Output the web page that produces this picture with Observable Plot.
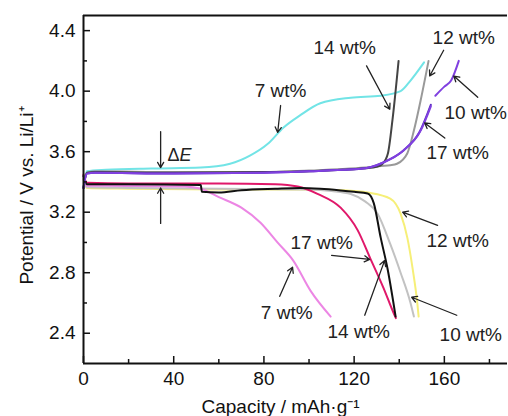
<!DOCTYPE html>
<html><head><meta charset="utf-8">
<script src="https://cdn.jsdelivr.net/npm/d3@7"></script>
<script src="https://cdn.jsdelivr.net/npm/@observablehq/plot@0.6"></script>
<style>body{margin:0;background:#fff}</style>
</head><body><div id="chart"></div>
<script>
// ---- tick values ----
const xMajor = [0, 40, 80, 120, 160];
const xMinor = [20, 60, 100, 140, 180];
const yMajor = [2.4, 2.8, 3.2, 3.6, 4.0, 4.4];
const yMinor = [2.6, 3.0, 3.4, 3.8, 4.2];

// ---- charge curves (capacity mAh/g, potential V) ----
const c7Cap  = [0, 1.5, 10, 30, 52, 65, 74, 81.6, 88.7, 96, 105, 118.5, 131.8, 140.6, 145, 151];
const c7V    = [3.36, 3.47, 3.48, 3.489, 3.495, 3.52, 3.575, 3.65, 3.76, 3.84, 3.92, 3.957, 3.97, 4.0, 4.07, 4.19];
const c17Cap = [0, 1.5, 5, 40, 80, 100, 115, 125, 130, 136, 142, 149, 154];
const c17V   = [3.36, 3.455, 3.46, 3.455, 3.46, 3.47, 3.48, 3.49, 3.51, 3.55, 3.61, 3.73, 3.91];
const c10Cap = [0, 1.5, 5, 40, 80, 100, 115, 125, 130, 136, 142, 149.5, 154, 155, 156, 160, 163, 166.4];
const c10V   = [3.36, 3.455, 3.46, 3.455, 3.46, 3.47, 3.48, 3.49, 3.51, 3.55, 3.61, 3.74, 3.9, NaN, 3.97, 4.03, 4.07, 4.2];
const c12Cap = [0, 1.5, 5, 40, 80, 100, 115, 125, 132, 136, 139, 143.6, 146.5, 149.5, 153];
const c12V   = [3.36, 3.46, 3.47, 3.465, 3.465, 3.475, 3.485, 3.495, 3.505, 3.51, 3.52, 3.59, 3.74, 3.94, 4.2];
const c14Cap = [0, 1.5, 5, 40, 80, 100, 115, 125, 130, 132.6, 135, 137, 139.7];
const c14V   = [3.36, 3.46, 3.465, 3.46, 3.465, 3.47, 3.48, 3.49, 3.5, 3.52, 3.59, 3.81, 4.2];

// ---- discharge curves ----
const d7Cap  = [0, 1.5, 10, 30, 45, 52, 60, 70, 78.5, 86, 93, 100.7, 109.6];
const d7V    = [3.44, 3.375, 3.375, 3.372, 3.37, 3.355, 3.30, 3.23, 3.13, 3.0, 2.88, 2.68, 2.51];
const d10Cap = [0, 1.5, 20, 60, 100, 110, 118.5, 125, 130.4, 136, 140.6, 145, 146.5];
const d10V   = [3.42, 3.365, 3.36, 3.355, 3.35, 3.34, 3.32, 3.27, 3.19, 2.99, 2.80, 2.60, 2.51];
const d12Cap = [0, 1.5, 20, 60, 100, 115, 126, 136, 140.6, 143.6, 146, 148, 148.6];
const d12V   = [3.42, 3.36, 3.355, 3.35, 3.35, 3.345, 3.33, 3.29, 3.19, 3.03, 2.82, 2.60, 2.51];
const d14Cap = [0, 1.5, 20, 52, 52.5, 60, 70, 85, 96, 105, 114, 120, 126, 128.7, 131.8, 134.9, 138.4];
const d14V   = [3.44, 3.385, 3.385, 3.38, 3.335, 3.33, 3.345, 3.355, 3.36, 3.355, 3.344, 3.335, 3.324, 3.26, 3.03, 2.82, 2.51];
const d17Cap = [0, 1.5, 20, 60, 85, 95, 104, 114, 121.6, 127, 133, 137.6, 138.5];
const d17V   = [3.45, 3.395, 3.39, 3.39, 3.385, 3.37, 3.32, 3.23, 3.08, 2.90, 2.70, 2.53, 2.50];

const series = [
  {cap: d12Cap, v: d12V, color: "#f6ef78"},
  {cap: d10Cap, v: d10V, color: "#c2c2c2"},
  {cap: d7Cap,  v: d7V,  color: "#ec86e4"},
  {cap: d17Cap, v: d17V, color: "#e0186a"},
  {cap: d14Cap, v: d14V, color: "#111111"},
  {cap: c7Cap,  v: c7V,  color: "#72e4e6"},
  {cap: c12Cap, v: c12V, color: "#999999"},
  {cap: c14Cap, v: c14V, color: "#444444"},
  {cap: c17Cap, v: c17V, color: "#5a2cc0"},
  {cap: c10Cap, v: c10V, color: "#8040e0"}
];

// ---- annotations ----
const labText = ["14 wt%", "12 wt%", "10 wt%", "17 wt%", "7 wt%", "12 wt%", "17 wt%", "7 wt%", "14 wt%", "10 wt%"];
const labX    = [115.8, 168.6, 173.9, 165.9, 87.4, 165.9, 105.6, 90.1, 122, 171.7];
const labY    = [4.288, 4.354, 3.859, 3.595, 4.004, 3.007, 2.994, 2.532, 2.407, 2.387];
const arX1 = [125.5, 159.7, 174.8, 160.2, 87.4, 157, 110, 87, 124.7, 165.5, 34.2, 34.2];
const arY1 = [4.167, 4.27, 3.96, 3.69, 3.905, 3.113, 2.915, 2.644, 2.519, 2.519, 3.733, 3.126];
const arX2 = [135.8, 153.5, 164.2, 151.3, 86.1, 141.5, 126.9, 92.7, 133.5, 145.5, 34.2, 34.2];
const arY2 = [3.88, 4.10, 4.10, 3.79, 3.727, 3.20, 2.888, 2.836, 2.88, 2.638, 3.495, 3.36];
const deltaX = 37.3, deltaY = 3.574;

const W = 508, H = 416, mL = 83, mR = 1, mT = 15, mB = 53;
const pw = W - mL - mR, ph = H - mT - mB;

const labels = labText.map((t, i) => ({t, x: labX[i], y: labY[i]}));
const arrows = arX1.map((x1, i) => ({x1, y1: arY1[i], x2: arX2[i], y2: arY2[i]}));

const marks = [];
for (const s of series) {
  const rows = s.cap.map((c, i) => ({c, v: s.v[i]}));
  marks.push(Plot.line(rows, {x: "c", y: "v", stroke: s.color, strokeWidth: 2, curve: "monotone-x"}));
}
marks.push(
  Plot.ruleX([0], {stroke: "#111", strokeWidth: 2}),
  Plot.ruleY([2.2], {stroke: "#111", strokeWidth: 2}),
  Plot.ruleY([4.5], {stroke: "#111", strokeWidth: 2}),
  Plot.tickX(xMajor, {x: d => d, stroke: "#111", strokeWidth: 1.5, insetTop: ph - 7}),
  Plot.tickX(xMinor, {x: d => d, stroke: "#111", strokeWidth: 1.5, insetTop: ph - 4}),
  Plot.tickY(yMajor, {y: d => d, stroke: "#111", strokeWidth: 1.5, insetRight: pw - 7}),
  Plot.tickY(yMinor, {y: d => d, stroke: "#111", strokeWidth: 1.5, insetRight: pw - 4}),
  Plot.axisX(xMajor, {tickSize: 0, tickPadding: 8, fontSize: 19, fill: "#111", label: null}),
  Plot.axisY(yMajor, {tickSize: 0, tickPadding: 8, fontSize: 19, fill: "#111", label: null, tickFormat: d3.format(".1f")}),
  Plot.arrow(arrows, {x1: "x1", y1: "y1", x2: "x2", y2: "y2", stroke: "#222", strokeWidth: 1.3, headLength: 7}),
  Plot.text(labels, {x: "x", y: "y", text: "t", fontSize: 19, fill: "#222", textAnchor: "middle", lineAnchor: "middle"}),
  Plot.text([0], {x: deltaX, y: deltaY, text: () => "Δ", fontSize: 18, fill: "#222", textAnchor: "start", lineAnchor: "middle"}),
  Plot.text([0], {x: deltaX, y: deltaY, dx: 12, text: () => "E", fontSize: 18, fontStyle: "italic", fill: "#222", textAnchor: "start", lineAnchor: "middle"}),
  Plot.text(["Capacity / mAh·g⁻¹"], {frameAnchor: "bottom", dy: 43, dx: -15, fontSize: 19, fill: "#111", textAnchor: "middle", lineAnchor: "middle"}),
  Plot.text(["Potential / V vs. Li/Li⁺"], {frameAnchor: "left", dx: -57, dy: 6, rotate: -90, fontSize: 19, fill: "#111", textAnchor: "middle", lineAnchor: "middle"})
);

const chart = Plot.plot({
  width: W, height: H,
  marginLeft: mL, marginRight: mR, marginTop: mT, marginBottom: mB,
  style: {fontFamily: "'Liberation Sans', Arial, sans-serif", background: "#fff", overflow: "visible"},
  x: {domain: [0, 188], axis: null},
  y: {domain: [2.2, 4.5], axis: null},
  marks
});
document.getElementById("chart").appendChild(chart);
</script>
</body></html>
